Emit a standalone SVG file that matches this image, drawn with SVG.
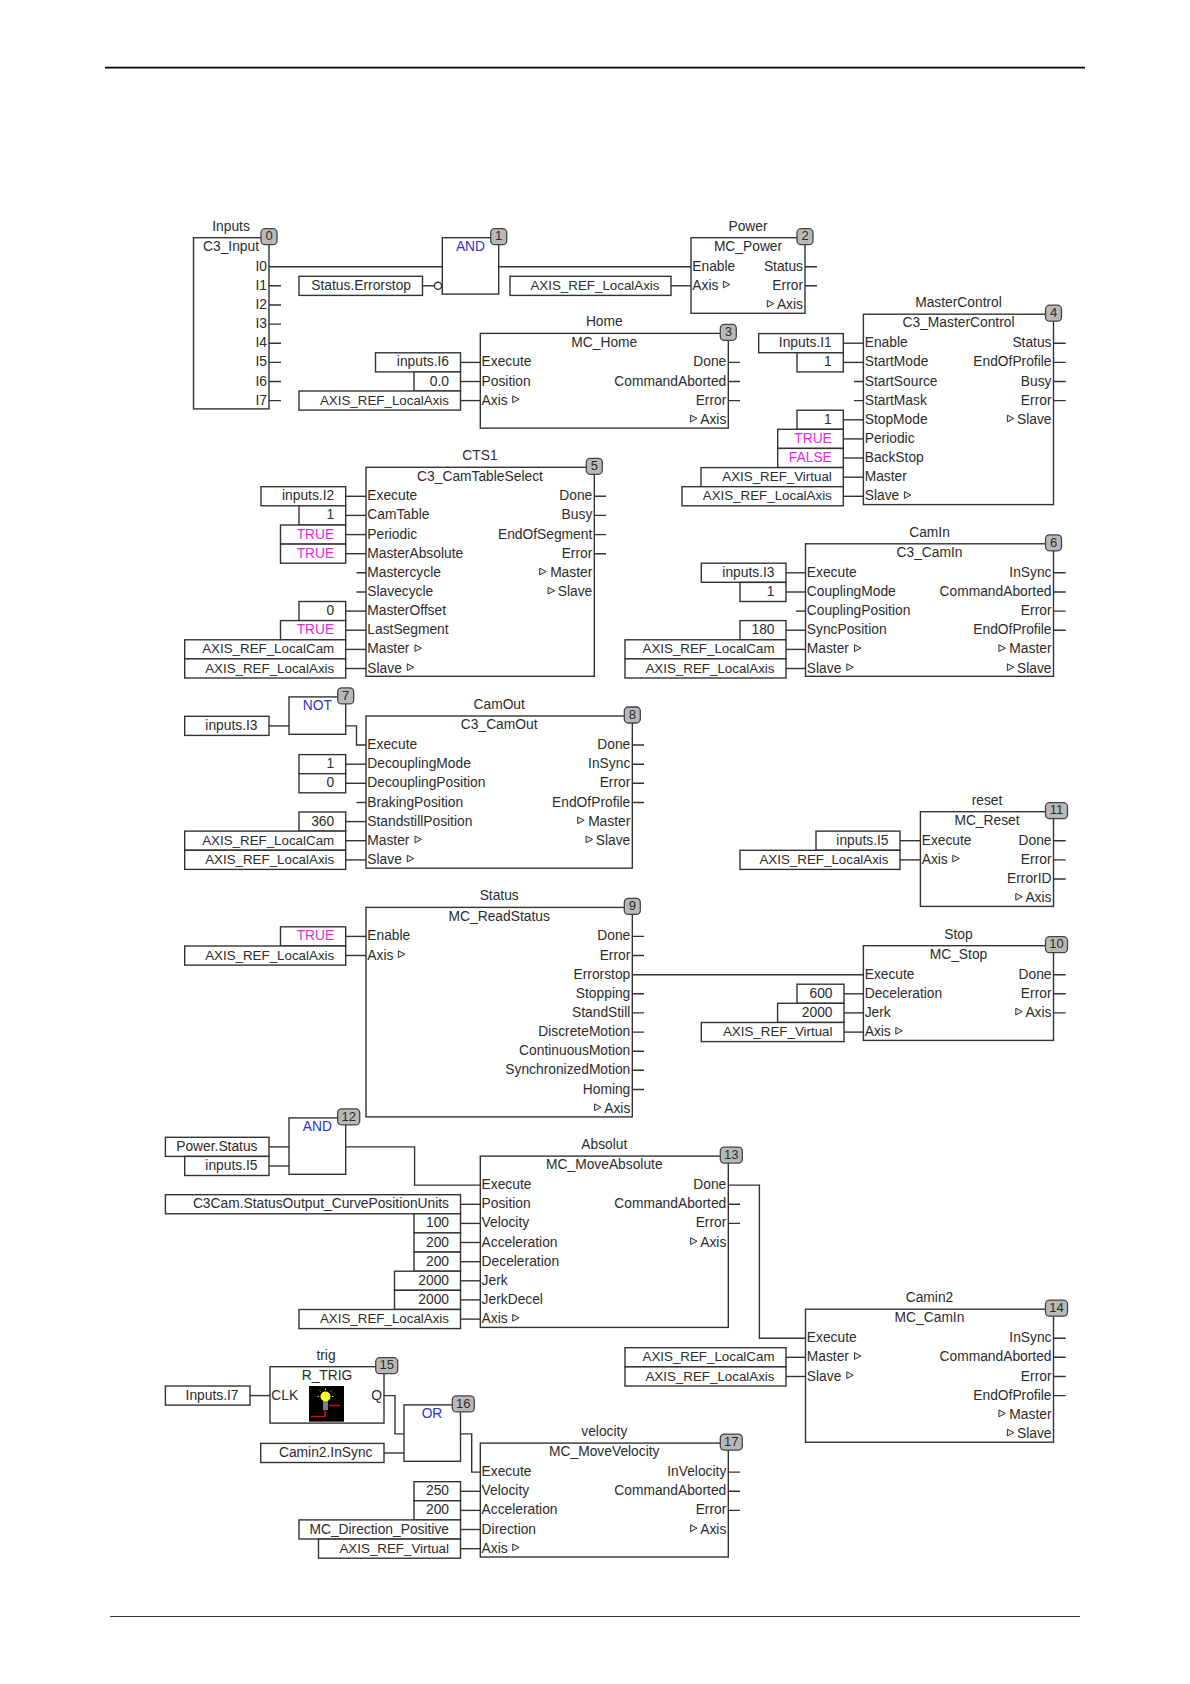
<svg xmlns="http://www.w3.org/2000/svg" width="1190" height="1684" viewBox="0 0 1190 1684">
<style>
text{font-family:"Liberation Sans",Arial,sans-serif;font-size:13.8px;fill:#2c2c2c;transform:translateY(-.9px)}
text:not(.r):not(.c):not(.s){transform:translate(-.7px,-.9px)}
.r{text-anchor:end}.c{text-anchor:middle}
.x{font-size:13.35px}
.m{fill:#e02ce0}.n{fill:#3232c8}
.b{fill:#fff;stroke:#333;stroke-width:1.4}
.f{fill:none;stroke:#333;stroke-width:1.4}
.w{fill:none;stroke:#333;stroke-width:1.4}
.g{fill:#b8b8b8;stroke:#444;stroke-width:1.3}
.s{text-anchor:middle;font-size:13px}
</style>
<defs><polygon id="tri" points="0,-3.4 6.5,0 0,3.4" fill="#e4e4e4" stroke="#333" stroke-width="1"/></defs>
<rect width="1190" height="1684" fill="#fff"/>
<g id="page-rules"><line x1="105" y1="67.7" x2="1085" y2="67.7" stroke="#000" stroke-width="1.8"/><line x1="110" y1="1616.5" x2="1080" y2="1616.5" stroke="#333" stroke-width="1.1"/></g>

<g id="connectors" class="w">
<path class="w" d="M269 266.7H442.3"/><path class="w" d="M498.7 266.7H691"/>
<path class="w" d="M269 285.8H281M269 305H281M269 324.1H281M269 343.2H281M269 362.4H281M269 381.5H281M269 400.6H281"/>
<path class="w" d="M422.5 285.8H434.5"/><path class="w" d="M671 285.8H691"/>
<path class="w" d="M805 266.7H817M805 285.8H817"/>
<path class="w" d="M460.5 362.4H480.3"/><path class="w" d="M460.5 381.5H480.3"/><path class="w" d="M460.5 400.6H480.3"/>
<path class="w" d="M728.3 362.4H740M728.3 381.5H740M728.3 400.6H740"/>
<path class="w" d="M843.3 343.2H863.4"/><path class="w" d="M843.3 362.4H863.4"/><path class="w" d="M854 381.5H863.4M854 400.6H863.4"/>
<path class="w" d="M843.3 419.8H863.4"/><path class="w" d="M843.3 438.9H863.4"/><path class="w" d="M843.3 458H863.4"/><path class="w" d="M843.3 477.2H863.4"/><path class="w" d="M843.3 496.3H863.4"/>
<path class="w" d="M1053.5 343.2H1065.7M1053.5 362.4H1065.7M1053.5 381.5H1065.7M1053.5 400.6H1065.7"/>
<path class="w" d="M345.7 496.3H366"/><path class="w" d="M345.7 515.4H366"/><path class="w" d="M345.7 534.6H366"/><path class="w" d="M345.7 553.7H366"/><path class="w" d="M356.5 572.8H366M356.5 592H366"/>
<path class="w" d="M345.7 611.1H366"/><path class="w" d="M345.7 630.2H366"/><path class="w" d="M345.7 649.4H366"/><path class="w" d="M345.7 668.5H366"/>
<path class="w" d="M594.3 496.3H606M594.3 515.4H606M594.3 534.6H606M594.3 553.7H606"/>
<path class="w" d="M786 572.8H805.5"/><path class="w" d="M786 592H805.5"/><path class="w" d="M796 611.1H805.5"/><path class="w" d="M786 630.2H805.5"/><path class="w" d="M786 649.4H805.5"/><path class="w" d="M786 668.5H805.5"/>
<path class="w" d="M1053.5 572.8H1065.7M1053.5 592H1065.7M1053.5 611.1H1065.7M1053.5 630.2H1065.7"/>
<path class="w" d="M269 725.9H289"/><path class="w" d="M345.7 725.9H356.5V745H366"/>
<path class="w" d="M345.7 764.2H366"/><path class="w" d="M345.7 783.3H366"/><path class="w" d="M356.5 802.5H366"/><path class="w" d="M345.7 821.6H366"/><path class="w" d="M345.7 840.7H366"/><path class="w" d="M345.7 859.9H366"/>
<path class="w" d="M632.3 745H644M632.3 764.2H644M632.3 783.3H644M632.3 802.5H644"/>
<path class="w" d="M900 840.7H920.4"/><path class="w" d="M900 859.9H920.4"/>
<path class="w" d="M1053.5 840.7H1065.7M1053.5 859.9H1065.7M1053.5 879H1065.7"/>
<path class="w" d="M345.7 936.4H366"/><path class="w" d="M345.7 955.5H366"/>
<path class="w" d="M632.3 936.4H644M632.3 955.5H644M632.3 993.8H644M632.3 1012.9H644M632.3 1032.1H644M632.3 1051.2H644M632.3 1070.3H644M632.3 1089.5H644"/>
<path class="w" d="M632.3 974.7H863.4"/>
<path class="w" d="M844 993.8H863.4"/><path class="w" d="M844 1012.9H863.4"/><path class="w" d="M844 1032.1H863.4"/>
<path class="w" d="M1053.5 974.7H1065.7M1053.5 993.8H1065.7M1053.5 1012.9H1065.7"/>
<path class="w" d="M269 1146.9H289"/><path class="w" d="M269 1166H289"/>
<path class="w" d="M345.7 1146.9H414.6V1185.1H480.3"/>
<path class="w" d="M460.5 1204.3H480.3"/><path class="w" d="M460.5 1223.4H480.3"/><path class="w" d="M460.5 1242.5H480.3"/><path class="w" d="M460.5 1261.7H480.3"/><path class="w" d="M460.5 1280.8H480.3"/><path class="w" d="M460.5 1299.9H480.3"/><path class="w" d="M460.5 1319.1H480.3"/>
<path class="w" d="M728.3 1204.3H740M728.3 1223.4H740"/>
<path class="w" d="M728.3 1185.1H759.4V1338.2H805.5"/>
<path class="w" d="M786 1357.3H805.5"/><path class="w" d="M786 1376.5H805.5"/>
<path class="w" d="M1053.5 1338.2H1065.7M1053.5 1357.3H1065.7M1053.5 1376.5H1065.7M1053.5 1395.6H1065.7"/>
<path class="w" d="M250 1395.6H270"/><path class="w" d="M384 1395.6H395V1433.9H404"/><path class="w" d="M384 1453H404"/>
<path class="w" d="M460.5 1433.9H471.7V1472.1H480.3"/>
<path class="w" d="M460.5 1491.3H480.3"/><path class="w" d="M460.5 1510.4H480.3"/><path class="w" d="M460.5 1529.5H480.3"/><path class="w" d="M460.5 1548.7H480.3"/>
<path class="w" d="M728.3 1472.1H740M728.3 1491.3H740M728.3 1510.4H740"/>
</g>

<g id="node-0"><rect class="f" x="193.5" y="237.7" width="75.5" height="171.2"/><text class="c" x="231" y="231.7">Inputs</text><text class="c" x="231" y="251.9">C3_Input</text>
<text class="r" x="267" y="271.7">I0</text><text class="r" x="267" y="290.8">I1</text><text class="r" x="267" y="310">I2</text><text class="r" x="267" y="329.1">I3</text><text class="r" x="267" y="348.2">I4</text><text class="r" x="267" y="367.4">I5</text><text class="r" x="267" y="386.5">I6</text><text class="r" x="267" y="405.6">I7</text>
<rect class="g" x="261" y="228.7" width="16" height="16" rx="4"/><text class="s" x="269" y="241.4">0</text></g>

<g id="node-1"><circle cx="438" cy="285.8" r="3.6" class="f"/><rect class="f" x="442.3" y="237.7" width="56.4" height="56.4"/><text class="c n" x="470.5" y="251.9">AND</text><rect class="g" x="490.7" y="228.7" width="16" height="16" rx="4"/><text class="s" x="498.7" y="241.4">1</text></g>
<g id="var-errorstop"><rect class="b" x="299" y="276.3" width="123.5" height="19.1"/><text class="r" x="411" y="290.8">Status.Errorstop</text></g>

<g id="node-2"><rect class="f" x="691" y="237.7" width="114" height="75.6"/><text class="c" x="748" y="231.7">Power</text><text class="c" x="748" y="251.9">MC_Power</text>
<text x="693" y="271.7">Enable</text><text x="693" y="290.8">Axis</text><use href="#tri" x="723.4" y="284.5"/>
<text class="r" x="803" y="271.7">Status</text><text class="r" x="803" y="290.8">Error</text><text class="r" x="803" y="310">Axis</text><use href="#tri" x="767.3" y="303.7"/>
<rect class="g" x="797" y="228.7" width="16" height="16" rx="4"/><text class="s" x="805" y="241.4">2</text></g>
<g id="var-power-axis"><rect class="b" x="510" y="276.3" width="161" height="19.1"/><text class="r x" x="659.5" y="290.8">AXIS_REF_LocalAxis</text></g>

<g id="node-3"><rect class="f" x="480.3" y="333.4" width="248" height="94.7"/><text class="c" x="604.3" y="327.4">Home</text><text class="c" x="604.3" y="347.6">MC_Home</text>
<text x="482.3" y="367.4">Execute</text><text x="482.3" y="386.5">Position</text><text x="482.3" y="405.6">Axis</text><use href="#tri" x="512.7" y="399.3"/>
<text class="r" x="726.3" y="367.4">Done</text><text class="r" x="726.3" y="386.5">CommandAborted</text><text class="r" x="726.3" y="405.6">Error</text><text class="r" x="726.3" y="424.8">Axis</text><use href="#tri" x="690.6" y="418.5"/>
<rect class="g" x="720.3" y="324.4" width="16" height="16" rx="4"/><text class="s" x="728.3" y="337.1">3</text></g>
<g id="var-home-execute"><rect class="b" x="375.5" y="352.8" width="85" height="19.1"/><text class="r" x="449" y="367.4">inputs.I6</text></g>
<g id="var-home-position"><rect class="b" x="414" y="371.9" width="46.5" height="19.1"/><text class="r" x="449" y="386.5">0.0</text></g>
<g id="var-home-axis"><rect class="b" x="299" y="391" width="161.5" height="19.1"/><text class="r x" x="449" y="405.6">AXIS_REF_LocalAxis</text></g>

<g id="node-4"><rect class="f" x="863.4" y="314.2" width="190.1" height="190.4"/><text class="c" x="958.5" y="308.2">MasterControl</text><text class="c" x="958.5" y="328.4">C3_MasterControl</text>
<text x="865.4" y="348.2">Enable</text><text x="865.4" y="367.4">StartMode</text><text x="865.4" y="386.5">StartSource</text><text x="865.4" y="405.6">StartMask</text><text x="865.4" y="424.8">StopMode</text><text x="865.4" y="443.9">Periodic</text><text x="865.4" y="463">BackStop</text><text x="865.4" y="482.2">Master</text><text x="865.4" y="501.3">Slave</text><use href="#tri" x="904.4" y="495"/>
<text class="r" x="1051.5" y="348.2">Status</text><text class="r" x="1051.5" y="367.4">EndOfProfile</text><text class="r" x="1051.5" y="386.5">Busy</text><text class="r" x="1051.5" y="405.6">Error</text><text class="r" x="1051.5" y="424.8">Slave</text><use href="#tri" x="1007.4" y="418.5"/>
<rect class="g" x="1045.5" y="305.2" width="16" height="16" rx="4"/><text class="s" x="1053.5" y="317.9">4</text></g>
<g id="var-mc-enable"><rect class="b" x="758.7" y="333.6" width="84.6" height="19.1"/><text class="r" x="831.8" y="348.2">Inputs.I1</text></g>
<g id="var-mc-startmode"><rect class="b" x="797" y="352.8" width="46.3" height="19.1"/><text class="r" x="831.8" y="367.4">1</text></g>
<g id="var-mc-stopmode"><rect class="b" x="797" y="410.2" width="46.3" height="19.1"/><text class="r" x="831.8" y="424.8">1</text></g>
<g id="var-mc-periodic"><rect class="b" x="777.7" y="429.3" width="65.6" height="19.1"/><text class="r m" x="831.8" y="443.9">TRUE</text></g>
<g id="var-mc-backstop"><rect class="b" x="777.7" y="448.4" width="65.6" height="19.1"/><text class="r m" x="831.8" y="463">FALSE</text></g>
<g id="var-mc-master"><rect class="b" x="701" y="467.6" width="142.3" height="19.1"/><text class="r x" x="831.8" y="482.2">AXIS_REF_Virtual</text></g>
<g id="var-mc-slave"><rect class="b" x="682" y="486.7" width="161.3" height="19.1"/><text class="r x" x="831.8" y="501.3">AXIS_REF_LocalAxis</text></g>

<g id="node-5"><rect class="f" x="366" y="467.3" width="228.3" height="209"/><text class="c" x="480" y="461.3">CTS1</text><text class="c" x="480" y="481.5">C3_CamTableSelect</text>
<text x="368" y="501.3">Execute</text><text x="368" y="520.4">CamTable</text><text x="368" y="539.6">Periodic</text><text x="368" y="558.7">MasterAbsolute</text><text x="368" y="577.8">Mastercycle</text><text x="368" y="597">Slavecycle</text><text x="368" y="616.1">MasterOffset</text><text x="368" y="635.2">LastSegment</text><text x="368" y="654.4">Master</text><use href="#tri" x="415" y="648.1"/><text x="368" y="673.5">Slave</text><use href="#tri" x="407.3" y="667.2"/>
<text class="r" x="592.3" y="501.3">Done</text><text class="r" x="592.3" y="520.4">Busy</text><text class="r" x="592.3" y="539.6">EndOfSegment</text><text class="r" x="592.3" y="558.7">Error</text><text class="r" x="592.3" y="577.8">Master</text><use href="#tri" x="539.7" y="571.5"/><text class="r" x="592.3" y="597">Slave</text><use href="#tri" x="548.1" y="590.7"/>
<rect class="g" x="586.3" y="458.3" width="16" height="16" rx="4"/><text class="s" x="594.3" y="471">5</text></g>
<g id="var-cts-execute"><rect class="b" x="261" y="486.7" width="84.7" height="19.1"/><text class="r" x="334.2" y="501.3">inputs.I2</text></g>
<g id="var-cts-camtable"><rect class="b" x="299" y="505.8" width="46.7" height="19.1"/><text class="r" x="334.2" y="520.4">1</text></g>
<g id="var-cts-periodic"><rect class="b" x="280.5" y="525" width="65.2" height="19.1"/><text class="r m" x="334.2" y="539.6">TRUE</text></g>
<g id="var-cts-absolute"><rect class="b" x="280.5" y="544.1" width="65.2" height="19.1"/><text class="r m" x="334.2" y="558.7">TRUE</text></g>
<g id="var-cts-offset"><rect class="b" x="299" y="601.5" width="46.7" height="19.1"/><text class="r" x="334.2" y="616.1">0</text></g>
<g id="var-cts-lastseg"><rect class="b" x="280.5" y="620.6" width="65.2" height="19.1"/><text class="r m" x="334.2" y="635.2">TRUE</text></g>
<g id="var-cts-master"><rect class="b" x="184.7" y="639.8" width="161" height="19.1"/><text class="r x" x="334.2" y="654.4">AXIS_REF_LocalCam</text></g>
<g id="var-cts-slave"><rect class="b" x="184.7" y="658.9" width="161" height="19.1"/><text class="r x" x="334.2" y="673.5">AXIS_REF_LocalAxis</text></g>

<g id="node-6"><rect class="f" x="805.5" y="543.8" width="248" height="132.5"/><text class="c" x="929.5" y="537.8">CamIn</text><text class="c" x="929.5" y="558">C3_CamIn</text>
<text x="807.5" y="577.8">Execute</text><text x="807.5" y="597">CouplingMode</text><text x="807.5" y="616.1">CouplingPosition</text><text x="807.5" y="635.2">SyncPosition</text><text x="807.5" y="654.4">Master</text><use href="#tri" x="854.5" y="648.1"/><text x="807.5" y="673.5">Slave</text><use href="#tri" x="846.8" y="667.2"/>
<text class="r" x="1051.5" y="577.8">InSync</text><text class="r" x="1051.5" y="597">CommandAborted</text><text class="r" x="1051.5" y="616.1">Error</text><text class="r" x="1051.5" y="635.2">EndOfProfile</text><text class="r" x="1051.5" y="654.4">Master</text><use href="#tri" x="998.9" y="648.1"/><text class="r" x="1051.5" y="673.5">Slave</text><use href="#tri" x="1007.4" y="667.2"/>
<rect class="g" x="1045.5" y="534.8" width="16" height="16" rx="4"/><text class="s" x="1053.5" y="547.5">6</text></g>
<g id="var-camin-execute"><rect class="b" x="701.3" y="563.2" width="84.7" height="19.1"/><text class="r" x="774.5" y="577.8">inputs.I3</text></g>
<g id="var-camin-mode"><rect class="b" x="740" y="582.4" width="46" height="19.1"/><text class="r" x="774.5" y="597">1</text></g>
<g id="var-camin-sync"><rect class="b" x="740" y="620.6" width="46" height="19.1"/><text class="r" x="774.5" y="635.2">180</text></g>
<g id="var-camin-master"><rect class="b" x="625" y="639.8" width="161" height="19.1"/><text class="r x" x="774.5" y="654.4">AXIS_REF_LocalCam</text></g>
<g id="var-camin-slave"><rect class="b" x="625" y="658.9" width="161" height="19.1"/><text class="r x" x="774.5" y="673.5">AXIS_REF_LocalAxis</text></g>

<g id="node-7"><rect class="f" x="289" y="696.9" width="56.7" height="37.4"/><text class="c n" x="317.3" y="711.1">NOT</text><rect class="g" x="337.7" y="687.9" width="16" height="16" rx="4"/><text class="s" x="345.7" y="700.6">7</text></g>
<g id="var-not-in"><rect class="b" x="184.7" y="716.3" width="84.3" height="19.1"/><text class="r" x="257.5" y="730.9">inputs.I3</text></g>

<g id="node-8"><rect class="f" x="366" y="716" width="266.3" height="152.2"/><text class="c" x="499.2" y="710">CamOut</text><text class="c" x="499.2" y="730.2">C3_CamOut</text>
<text x="368" y="750">Execute</text><text x="368" y="769.2">DecouplingMode</text><text x="368" y="788.3">DecouplingPosition</text><text x="368" y="807.5">BrakingPosition</text><text x="368" y="826.6">StandstillPosition</text><text x="368" y="845.7">Master</text><use href="#tri" x="415" y="839.4"/><text x="368" y="864.9">Slave</text><use href="#tri" x="407.3" y="858.6"/>
<text class="r" x="630.3" y="750">Done</text><text class="r" x="630.3" y="769.2">InSync</text><text class="r" x="630.3" y="788.3">Error</text><text class="r" x="630.3" y="807.5">EndOfProfile</text><text class="r" x="630.3" y="826.6">Master</text><use href="#tri" x="577.7" y="820.3"/><text class="r" x="630.3" y="845.7">Slave</text><use href="#tri" x="586.1" y="839.4"/>
<rect class="g" x="624.3" y="707" width="16" height="16" rx="4"/><text class="s" x="632.3" y="719.7">8</text></g>
<g id="var-co-mode"><rect class="b" x="299" y="754.6" width="46.7" height="19.1"/><text class="r" x="334.2" y="769.2">1</text></g>
<g id="var-co-pos"><rect class="b" x="299" y="773.7" width="46.7" height="19.1"/><text class="r" x="334.2" y="788.3">0</text></g>
<g id="var-co-stand"><rect class="b" x="299" y="812" width="46.7" height="19.1"/><text class="r" x="334.2" y="826.6">360</text></g>
<g id="var-co-master"><rect class="b" x="184.7" y="831.1" width="161" height="19.1"/><text class="r x" x="334.2" y="845.7">AXIS_REF_LocalCam</text></g>
<g id="var-co-slave"><rect class="b" x="184.7" y="850.3" width="161" height="19.1"/><text class="r x" x="334.2" y="864.9">AXIS_REF_LocalAxis</text></g>

<g id="node-9"><rect class="f" x="366" y="907.4" width="266.3" height="209.5"/><text class="c" x="499.2" y="901.4">Status</text><text class="c" x="499.2" y="921.6">MC_ReadStatus</text>
<text x="368" y="941.4">Enable</text><text x="368" y="960.5">Axis</text><use href="#tri" x="398.4" y="954.2"/>
<text class="r" x="630.3" y="941.4">Done</text><text class="r" x="630.3" y="960.5">Error</text><text class="r" x="630.3" y="979.7">Errorstop</text><text class="r" x="630.3" y="998.8">Stopping</text><text class="r" x="630.3" y="1017.9">StandStill</text><text class="r" x="630.3" y="1037.1">DiscreteMotion</text><text class="r" x="630.3" y="1056.2">ContinuousMotion</text><text class="r" x="630.3" y="1075.3">SynchronizedMotion</text><text class="r" x="630.3" y="1094.5">Homing</text><text class="r" x="630.3" y="1113.6">Axis</text><use href="#tri" x="594.6" y="1107.3"/>
<rect class="g" x="624.3" y="898.4" width="16" height="16" rx="4"/><text class="s" x="632.3" y="911.1">9</text></g>
<g id="var-rs-enable"><rect class="b" x="280.5" y="926.8" width="65.2" height="19.1"/><text class="r m" x="334.2" y="941.4">TRUE</text></g>
<g id="var-rs-axis"><rect class="b" x="184.7" y="946" width="161" height="19.1"/><text class="r x" x="334.2" y="960.5">AXIS_REF_LocalAxis</text></g>

<g id="node-10"><rect class="f" x="863.4" y="945.7" width="190.1" height="94.7"/><text class="c" x="958.5" y="939.7">Stop</text><text class="c" x="958.5" y="959.9">MC_Stop</text>
<text x="865.4" y="979.7">Execute</text><text x="865.4" y="998.8">Deceleration</text><text x="865.4" y="1017.9">Jerk</text><text x="865.4" y="1037.1">Axis</text><use href="#tri" x="895.8" y="1030.8"/>
<text class="r" x="1051.5" y="979.7">Done</text><text class="r" x="1051.5" y="998.8">Error</text><text class="r" x="1051.5" y="1017.9">Axis</text><use href="#tri" x="1015.8" y="1011.6"/>
<rect class="g" x="1045.5" y="936.7" width="22" height="16" rx="4"/><text class="s" x="1056.5" y="949.4">10</text></g>
<g id="var-stop-dec"><rect class="b" x="797" y="984.2" width="47" height="19.1"/><text class="r" x="832.5" y="998.8">600</text></g>
<g id="var-stop-jerk"><rect class="b" x="777.6" y="1003.3" width="66.4" height="19.1"/><text class="r" x="832.5" y="1017.9">2000</text></g>
<g id="var-stop-axis"><rect class="b" x="701.3" y="1022.5" width="142.7" height="19.1"/><text class="r x" x="832.5" y="1037.1">AXIS_REF_Virtual</text></g>

<g id="node-11"><rect class="f" x="920.4" y="811.7" width="133.1" height="94.7"/><text class="c" x="987" y="805.7">reset</text><text class="c" x="987" y="825.9">MC_Reset</text>
<text x="922.4" y="845.7">Execute</text><text x="922.4" y="864.9">Axis</text><use href="#tri" x="952.8" y="858.6"/>
<text class="r" x="1051.5" y="845.7">Done</text><text class="r" x="1051.5" y="864.9">Error</text><text class="r" x="1051.5" y="884">ErrorID</text><text class="r" x="1051.5" y="903.1">Axis</text><use href="#tri" x="1015.8" y="896.8"/>
<rect class="g" x="1045.5" y="802.7" width="22" height="16" rx="4"/><text class="s" x="1056.5" y="815.4">11</text></g>
<g id="var-reset-execute"><rect class="b" x="816" y="831.1" width="84" height="19.1"/><text class="r" x="888.5" y="845.7">inputs.I5</text></g>
<g id="var-reset-axis"><rect class="b" x="740" y="850.3" width="160" height="19.1"/><text class="r x" x="888.5" y="864.9">AXIS_REF_LocalAxis</text></g>

<g id="node-12"><rect class="f" x="289" y="1117.9" width="56.7" height="56.4"/><text class="c n" x="317.3" y="1132.1">AND</text><rect class="g" x="337.7" y="1108.9" width="22" height="16" rx="4"/><text class="s" x="348.7" y="1121.6">12</text></g>
<g id="var-and-a"><rect class="b" x="165.4" y="1137.3" width="103.6" height="19.1"/><text class="r" x="257.5" y="1151.9">Power.Status</text></g>
<g id="var-and-b"><rect class="b" x="184.7" y="1156.4" width="84.3" height="19.1"/><text class="r" x="257.5" y="1171">inputs.I5</text></g>

<g id="node-13"><rect class="f" x="480.3" y="1156.1" width="248" height="171.3"/><text class="c" x="604.3" y="1150.1">Absolut</text><text class="c" x="604.3" y="1170.3">MC_MoveAbsolute</text>
<text x="482.3" y="1190.1">Execute</text><text x="482.3" y="1209.3">Position</text><text x="482.3" y="1228.4">Velocity</text><text x="482.3" y="1247.5">Acceleration</text><text x="482.3" y="1266.7">Deceleration</text><text x="482.3" y="1285.8">Jerk</text><text x="482.3" y="1304.9">JerkDecel</text><text x="482.3" y="1324.1">Axis</text><use href="#tri" x="512.7" y="1317.8"/>
<text class="r" x="726.3" y="1190.1">Done</text><text class="r" x="726.3" y="1209.3">CommandAborted</text><text class="r" x="726.3" y="1228.4">Error</text><text class="r" x="726.3" y="1247.5">Axis</text><use href="#tri" x="690.6" y="1241.2"/>
<rect class="g" x="720.3" y="1147.1" width="22" height="16" rx="4"/><text class="s" x="731.3" y="1159.8">13</text></g>
<g id="var-abs-position"><rect class="b" x="165.4" y="1194.7" width="295.1" height="19.1"/><text class="r" x="449" y="1209.3">C3Cam.StatusOutput_CurvePositionUnits</text></g>
<g id="var-abs-velocity"><rect class="b" x="414" y="1213.8" width="46.5" height="19.1"/><text class="r" x="449" y="1228.4">100</text></g>
<g id="var-abs-accel"><rect class="b" x="414" y="1232.9" width="46.5" height="19.1"/><text class="r" x="449" y="1247.5">200</text></g>
<g id="var-abs-decel"><rect class="b" x="414" y="1252.1" width="46.5" height="19.1"/><text class="r" x="449" y="1266.7">200</text></g>
<g id="var-abs-jerk"><rect class="b" x="394.5" y="1271.2" width="66" height="19.1"/><text class="r" x="449" y="1285.8">2000</text></g>
<g id="var-abs-jerkdecel"><rect class="b" x="394.5" y="1290.3" width="66" height="19.1"/><text class="r" x="449" y="1304.9">2000</text></g>
<g id="var-abs-axis"><rect class="b" x="299" y="1309.5" width="161.5" height="19.1"/><text class="r x" x="449" y="1324.1">AXIS_REF_LocalAxis</text></g>

<g id="node-14"><rect class="f" x="805.5" y="1309.2" width="248" height="133"/><text class="c" x="929.5" y="1303.2">Camin2</text><text class="c" x="929.5" y="1323.4">MC_CamIn</text>
<text x="807.5" y="1343.2">Execute</text><text x="807.5" y="1362.3">Master</text><use href="#tri" x="854.5" y="1356"/><text x="807.5" y="1381.5">Slave</text><use href="#tri" x="846.8" y="1375.2"/>
<text class="r" x="1051.5" y="1343.2">InSync</text><text class="r" x="1051.5" y="1362.3">CommandAborted</text><text class="r" x="1051.5" y="1381.5">Error</text><text class="r" x="1051.5" y="1400.6">EndOfProfile</text><text class="r" x="1051.5" y="1419.7">Master</text><use href="#tri" x="998.9" y="1413.4"/><text class="r" x="1051.5" y="1438.9">Slave</text><use href="#tri" x="1007.4" y="1432.6"/>
<rect class="g" x="1045.5" y="1300.2" width="22" height="16" rx="4"/><text class="s" x="1056.5" y="1312.9">14</text></g>
<g id="var-camin2-master"><rect class="b" x="625" y="1347.7" width="161" height="19.1"/><text class="r x" x="774.5" y="1362.3">AXIS_REF_LocalCam</text></g>
<g id="var-camin2-slave"><rect class="b" x="625" y="1366.9" width="161" height="19.1"/><text class="r x" x="774.5" y="1381.5">AXIS_REF_LocalAxis</text></g>

<g id="node-15"><rect class="f" x="270" y="1366.7" width="114" height="56.4"/><text class="c" x="326" y="1360.7">trig</text><text class="c" x="327" y="1380.9">R_TRIG</text>
<text x="272" y="1400.6">CLK</text><text class="r" x="382" y="1400.6">Q</text>
<rect x="309" y="1386" width="35" height="35.7" fill="#000"/>
<path d="M311 1416.5H325V1406.5M329 1405.5H340" fill="none" stroke="#c81414" stroke-width="1.6"/>
<rect x="323" y="1401" width="5" height="9" fill="#808080"/>
<circle cx="325.5" cy="1396.5" r="5" fill="#ffff28"/>
<path d="M325.5 1388.5V1390M317.5 1396.5H319M332 1396.5H333.5M319.5 1390.5L320.5 1391.5M331.5 1390.5L330.5 1391.5" stroke="#d8d800" stroke-width="1"/>
<rect class="g" x="375.7" y="1357.7" width="22" height="16" rx="4"/><text class="s" x="386.7" y="1370.4">15</text></g>
<g id="var-trig-clk"><rect class="b" x="165.4" y="1386" width="84.6" height="19.1"/><text class="r" x="238.5" y="1400.6">Inputs.I7</text></g>

<g id="node-16"><rect class="f" x="404" y="1404.9" width="56.5" height="56.4"/><text class="c n" x="432" y="1419.1">OR</text><rect class="g" x="452.3" y="1395.9" width="22" height="16" rx="4"/><text class="s" x="463.3" y="1408.6">16</text></g>
<g id="var-or-b"><rect class="b" x="260.7" y="1443.4" width="123.3" height="19.1"/><text class="r" x="372.5" y="1458">Camin2.InSync</text></g>

<g id="node-17"><rect class="f" x="480.3" y="1443.1" width="248" height="113.9"/><text class="c" x="604.3" y="1437.1">velocity</text><text class="c" x="604.3" y="1457.3">MC_MoveVelocity</text>
<text x="482.3" y="1477.1">Execute</text><text x="482.3" y="1496.3">Velocity</text><text x="482.3" y="1515.4">Acceleration</text><text x="482.3" y="1534.5">Direction</text><text x="482.3" y="1553.7">Axis</text><use href="#tri" x="512.7" y="1547.4"/>
<text class="r" x="726.3" y="1477.1">InVelocity</text><text class="r" x="726.3" y="1496.3">CommandAborted</text><text class="r" x="726.3" y="1515.4">Error</text><text class="r" x="726.3" y="1534.5">Axis</text><use href="#tri" x="690.6" y="1528.2"/>
<rect class="g" x="720.3" y="1434.1" width="22" height="16" rx="4"/><text class="s" x="731.3" y="1446.8">17</text></g>
<g id="var-vel-velocity"><rect class="b" x="414" y="1481.7" width="46.5" height="19.1"/><text class="r" x="449" y="1496.3">250</text></g>
<g id="var-vel-accel"><rect class="b" x="414" y="1500.8" width="46.5" height="19.1"/><text class="r" x="449" y="1515.4">200</text></g>
<g id="var-vel-dir"><rect class="b" x="299" y="1519.9" width="161.5" height="19.1"/><text class="r" x="449" y="1534.5">MC_Direction_Positive</text></g>
<g id="var-vel-axis"><rect class="b" x="318.5" y="1539.1" width="142" height="19.1"/><text class="r x" x="449" y="1553.7">AXIS_REF_Virtual</text></g>
</svg>
